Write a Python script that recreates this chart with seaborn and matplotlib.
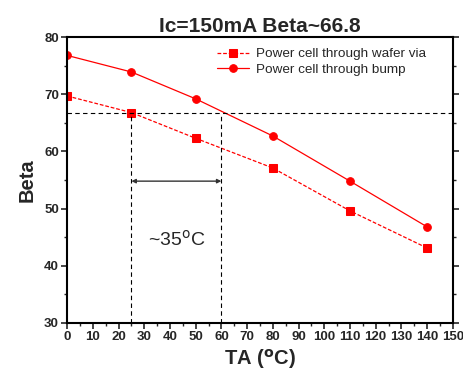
import matplotlib
matplotlib.use("Agg")
import matplotlib.pyplot as plt
import seaborn as sns
import pandas as pd
from matplotlib.ticker import MultipleLocator

temps = [0, 25, 50, 80, 110, 140]
beta_wafer_via = [69.7, 66.8, 62.3, 57.1, 49.6, 43.1]
beta_bump = [76.8, 73.9, 69.2, 62.7, 54.8, 46.8]
series_names = ["Power cell through wafer via", "Power cell through bump"]
ref_beta = 66.8
t_low, t_high = 25, 60

sns.set_theme(style="ticks")
plt.rcParams['font.family'] = ['Liberation Sans', 'DejaVu Sans']

df = pd.DataFrame({
    "TA": temps * 2,
    "Beta": beta_wafer_via + beta_bump,
    "Series": [series_names[0]] * len(temps) + [series_names[1]] * len(temps),
})

fig = plt.figure(figsize=(4.63, 3.75), dpi=100)
ax = fig.add_axes([0.145, 0.139, 0.833, 0.762])

sns.lineplot(data=df, x="TA", y="Beta", hue="Series", style="Series",
             palette=["#ff0000", "#ff0000"], dashes=[(3, 1.5), ""],
             markers=["s", "o"], markersize=5.5, markeredgecolor="#ff0000",
             linewidth=0.9, ax=ax)

ax.axhline(ref_beta, color="black", ls=(0, (4, 3)), lw=0.8)
ax.plot([t_low, t_low], [30, ref_beta], color="black", ls=(0, (4, 3)), lw=0.8)
ax.plot([t_high, t_high], [30, ref_beta], color="black", ls=(0, (4, 3)), lw=0.8)
ax.annotate("", xy=(t_low, 54.8), xytext=(t_high, 54.8),
            arrowprops=dict(arrowstyle="<|-|>", color="#333333", lw=1.0,
                            mutation_scale=6, shrinkA=0, shrinkB=0))
ax.text(42.5, 44.6, "~35$^{\\mathrm{o}}$C", ha="center", va="center", fontsize=14)

ax.set_xlim(0, 150)
ax.set_ylim(30, 80)
ax.xaxis.set_major_locator(MultipleLocator(10))
ax.xaxis.set_minor_locator(MultipleLocator(5))
ax.yaxis.set_major_locator(MultipleLocator(10))
ax.yaxis.set_minor_locator(MultipleLocator(5))
ax.tick_params(axis="both", which="major", length=4, width=1.2, labelsize=9.5, pad=2,
               direction="out")
ax.tick_params(axis="both", which="minor", length=2.5, width=1.0)
ax.tick_params(axis="y", which="both", right=True)
for lab in ax.get_xticklabels() + ax.get_yticklabels():
    lab.set_fontweight("bold")
for s in ax.spines.values():
    s.set_linewidth(1.5)
    s.set_color("black")

ax.set_xlabel("TA ($^{\\mathbf{o}}$C)", fontsize=14.5, fontweight="bold", labelpad=3)
ax.set_ylabel("Beta", fontsize=14.5, fontweight="bold", labelpad=5)
ax.set_title("Ic=150mA Beta~66.8", fontsize=15, fontweight="bold", pad=4)

leg = ax.legend(loc="upper right", bbox_to_anchor=(0.955, 0.995), frameon=False,
                fontsize=9.7, handlelength=2.4, handletextpad=0.5,
                borderaxespad=0.3, labelspacing=0.25)

fig.savefig("out.png", dpi=100)
